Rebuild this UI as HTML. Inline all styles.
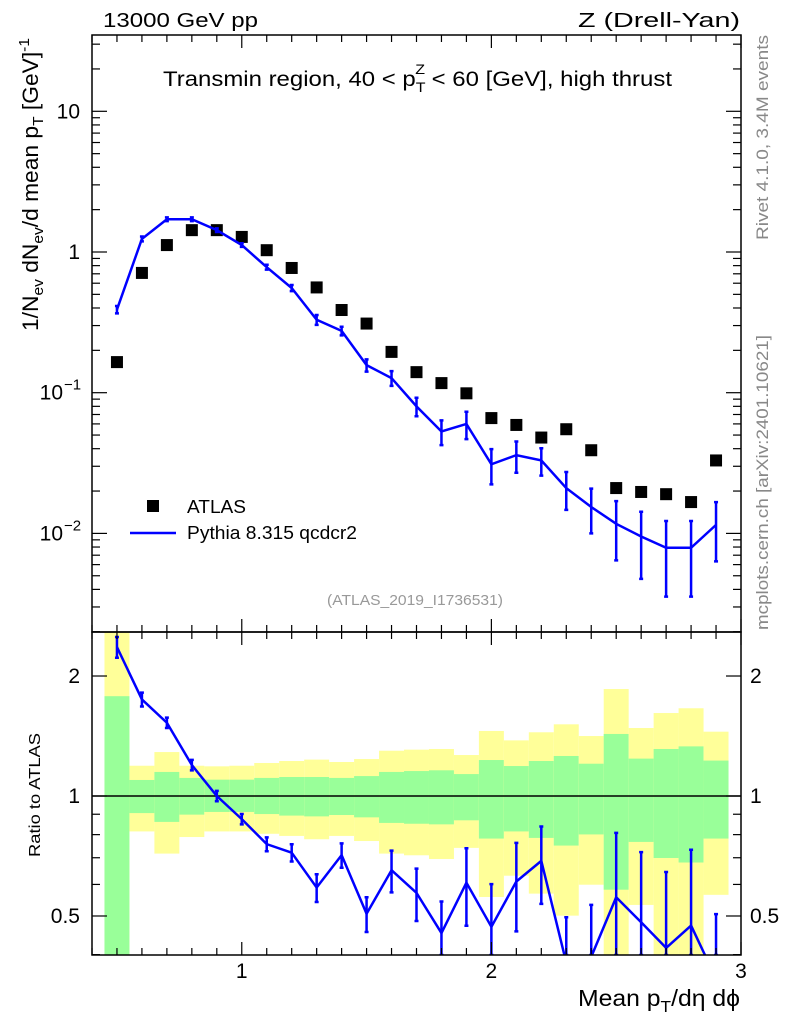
<!DOCTYPE html>
<html><head><meta charset="utf-8"><style>
html,body{margin:0;padding:0;background:#fff;overflow:hidden;width:786px;height:1024px;}
svg{display:block;font-family:"Liberation Sans",sans-serif;}
</style></head><body>
<svg id="c" width="786" height="1024" viewBox="0 0 786 1024" xmlns="http://www.w3.org/2000/svg">
<g id="bands"></g>
<g id="marks"></g>
<g id="axes"></g>
<text x="103" y="27" font-size="20" textLength="155" lengthAdjust="spacingAndGlyphs">13000 GeV pp</text>
<text x="578" y="27" font-size="20" textLength="162" lengthAdjust="spacingAndGlyphs">Z (Drell-Yan)</text>
<text x="163" y="86" font-size="21" textLength="509" lengthAdjust="spacingAndGlyphs">Transmin region, 40 &lt; p<tspan font-size="14" dy="6">T</tspan><tspan font-size="14" dx="-9" dy="-18">Z</tspan><tspan dy="12"> &lt; 60 [GeV], high thrust</tspan></text>
<text transform="translate(38,331) rotate(-90)" font-size="22" textLength="293" lengthAdjust="spacingAndGlyphs">1/N<tspan font-size="15" dy="5">ev</tspan><tspan dy="-5"> dN</tspan><tspan font-size="15" dy="5">ev</tspan><tspan dy="-5">/d mean p</tspan><tspan font-size="15" dy="5">T</tspan><tspan dy="-5"> [GeV]</tspan><tspan font-size="15" dy="-9">-1</tspan></text>
<text transform="translate(768,240) rotate(-90)" font-size="17" fill="#888" textLength="205" lengthAdjust="spacingAndGlyphs">Rivet 4.1.0,  3.4M events</text>
<text transform="translate(768,630) rotate(-90)" font-size="17" fill="#888" textLength="295" lengthAdjust="spacingAndGlyphs">mcplots.cern.ch [arXiv:2401.10621]</text>
<text x="327" y="605" font-size="15" fill="#999" textLength="176" lengthAdjust="spacingAndGlyphs">(ATLAS_2019_I1736531)</text>
<rect x="147" y="500" width="12" height="12" fill="#000"/>
<text x="187" y="513" font-size="18" textLength="59" lengthAdjust="spacingAndGlyphs">ATLAS</text>
<line x1="130" y1="533" x2="176" y2="533" stroke="#0000ff" stroke-width="2.5"/>
<text x="187" y="539" font-size="18" textLength="170" lengthAdjust="spacingAndGlyphs">Pythia 8.315 qcdcr2</text>
<text transform="translate(40,857) rotate(-90)" font-size="16" textLength="124" lengthAdjust="spacingAndGlyphs">Ratio to ATLAS</text>
<text x="578" y="1006" font-size="23" textLength="162" lengthAdjust="spacingAndGlyphs">Mean p<tspan font-size="16" dy="6">T</tspan><tspan dy="-6">/dη dϕ</tspan></text>
</svg>
<script>
const xs=[0.5,0.6,0.7,0.8,0.9,1.0,1.1,1.2,1.3,1.4,1.5,1.6,1.7,1.8,1.9,2.0,2.1,2.2,2.3,2.4,2.5,2.6,2.7,2.8,2.9];
const atlas=[0.165,0.71,1.12,1.43,1.43,1.28,1.03,0.77,0.56,0.387,0.31,0.195,0.14,0.117,0.099,0.066,0.059,0.048,0.055,0.039,0.021,0.0197,0.019,0.0167,0.033];
const pythia=[0.39,1.24,1.71,1.71,1.43,1.12,0.78,0.555,0.33,0.275,0.157,0.127,0.080,0.053,0.060,0.031,0.036,0.033,0.021,0.0154,0.0117,0.0095,0.0079,0.0079,0.0115];
const pyErr=[0.06,0.04,0.03,0.03,0.03,0.03,0.04,0.05,0.08,0.07,0.10,0.12,0.15,0.20,0.22,0.28,0.25,0.22,0.3,0.35,0.45,0.5,0.55,0.55,0.45];
const yelUp=[3.0,1.191,1.289,1.191,1.187,1.191,1.210,1.224,1.234,1.217,1.238,1.299,1.307,1.312,1.267,1.456,1.379,1.445,1.513,1.414,1.855,1.481,1.615,1.66,1.45];
const grnUp=[1.78,1.097,1.149,1.110,1.099,1.099,1.110,1.116,1.116,1.110,1.122,1.149,1.155,1.160,1.135,1.231,1.189,1.224,1.260,1.205,1.431,1.241,1.312,1.332,1.227];
const grnLo=[0.3,0.906,0.861,0.898,0.912,0.912,0.901,0.893,0.889,0.896,0.884,0.856,0.852,0.849,0.869,0.782,0.815,0.785,0.751,0.801,0.582,0.767,0.699,0.681,0.782];
const yelLo=[0.3,0.815,0.717,0.789,0.815,0.815,0.804,0.794,0.779,0.794,0.771,0.717,0.710,0.695,0.741,0.558,0.631,0.569,0.501,0.599,0.3,0.533,0.3,0.3,0.565];
const xTicks=["1","2","3"];
const binW=0.1;
const NS="http://www.w3.org/2000/svg";
const L=92,R=741,T=35,M=632,B=955;
const X=v=>L+(v-0.4)*(R-L)/2.6;
const Y=v=>252-Math.log10(v)*140.7;
const RY=v=>796-Math.log10(v)*398.6;
function mk(p,tag,a){const e=document.createElementNS(NS,tag);for(const k in a)e.setAttribute(k,a[k]);p.appendChild(e);return e;}
const bands=document.getElementById('bands'),marks=document.getElementById('marks'),axes=document.getElementById('axes');
const clipR=v=>Math.min(Math.max(RY(v),M),B);
const clipM=v=>Math.min(Math.max(Y(v),T),M);
xs.forEach((x,i)=>{
 const x0=Math.max(X(x-binW/2),L),x1=Math.min(X(x+binW/2),R);
 let r=mk(bands,'rect',{x:x0,y:clipR(yelUp[i]),width:x1-x0,height:clipR(yelLo[i])-clipR(yelUp[i]),fill:'#ffff99'});
 
 
 r=mk(bands,'rect',{x:x0,y:clipR(grnUp[i]),width:x1-x0,height:clipR(grnLo[i])-clipR(grnUp[i]),fill:'#99ff99'});
 
 
});
let ln=mk(bands,'line',{x1:L,x2:R,y1:RY(1),y2:RY(1),stroke:'#000','stroke-width':1.5});


const defs=mk(document.getElementById('c'),'defs',{});
const cp=mk(defs,'clipPath',{id:'rc'});mk(cp,'rect',{x:L,y:M,width:R-L,height:B-M});
const cm=mk(defs,'clipPath',{id:'mc'});mk(cm,'rect',{x:L,y:T,width:R-L,height:M-T});
const gm=mk(marks,'g',{'clip-path':'url(#mc)'});
xs.forEach((x,i)=>{
 const s=mk(gm,'rect',{x:X(x)-6,y:Y(atlas[i])-6,width:12,height:12,fill:'#000'});
 
 
});
let pl=mk(gm,'polyline',{points:xs.map((x,i)=>X(x)+','+Y(pythia[i])).join(' '),fill:'none',stroke:'#0000ff','stroke-width':2.5});


function ebar(g,x,yt,yb,name){
 const e=mk(g,'path',{d:`M${x},${yt}V${yb}M${x-2},${yt}h4M${x-2},${yb}h4`,stroke:'#0000ff','stroke-width':2.5,fill:'none'});
 
 
}
xs.forEach((x,i)=>{const v=pythia[i],e=pyErr[i];ebar(gm,X(x),clipM(v*(1+e)),clipM(Math.max(v*(1-e),1e-4)),'pythia-error-bar');});
const gr=mk(marks,'g',{'clip-path':'url(#rc)'});
const rat=xs.map((x,i)=>pythia[i]/atlas[i]);
const ratPts=xs.map((x,i)=>{let y=RY(rat[i]);return [X(x),y];});
// clip polyline segments to panel bounds to avoid overflow
let segs=[];
for(let i=0;i<ratPts.length-1;i++){
 let [x1,y1]=ratPts[i],[x2,y2]=ratPts[i+1];
 const clampSeg=(xa,ya,xb,yb)=>{ if(yb>B){const t=(B-ya)/(yb-ya);return [xa+(xb-xa)*t,B];} return [xb,yb];};
 if(y1>B&&y2>B)continue;
 let a=[x1,y1],b=[x2,y2];
 if(y1>B)a=clampSeg(x2,y2,x1,y1);
 if(y2>B)b=clampSeg(x1,y1,x2,y2);
 segs.push(`M${a[0]},${a[1]}L${b[0]},${b[1]}`);
}
pl=mk(gr,'path',{d:segs.join(''),fill:'none',stroke:'#0000ff','stroke-width':2.5,'stroke-linejoin':'round'});


xs.forEach((x,i)=>{const v=rat[i],e=pyErr[i];const yt=clipR(v*(1+e)),yb=clipR(v*(1-e));if(yb-yt<1)return;ebar(gr,X(x),yt,yb,'ratio-error-bar');});
[[T,M],[M,B]].forEach(([a,b])=>{const f=mk(axes,'rect',{x:L,y:a,width:R-L,height:b-a,fill:'none',stroke:'#000','stroke-width':1.5});
 
 });
function tk(x1,y1,x2,y2){mk(axes,'line',{x1,y1,x2,y2,stroke:'#000','stroke-width':1.2});}
for(let k=4;k<=30;k++){const v=k/10,px=X(v),big=k%10==0,l=big?13:7;
 [T,M,B].forEach(yy=>{ if(yy!==T) tk(px,yy,px,yy-l); if(yy!==B) tk(px,yy,px,yy+l);});}
xTicks.forEach(t=>{const tx=mk(axes,'text',{x:X(+t),y:978,'font-size':21,'text-anchor':'middle'});tx.textContent=t;
 
 });
for(let d=-3;d<=1;d++)for(let m=1;m<10;m++){const v=m*Math.pow(10,d),py=Y(v);if(py<T||py>M)continue;const l=m==1?15:8;tk(L,py,L+l,py);tk(R,py,R-l,py);}
const yl=[[10,'10',''],[1,'1',''],[0.1,'10','−1'],[0.01,'10','−2']];
yl.forEach(([v,b,e])=>{const t=mk(axes,'text',{x:e?63:80,y:Y(v)+7,'font-size':21,'text-anchor':'end'});t.textContent=b;
 
 
 if(e){const s=mk(axes,'text',{x:64,y:Y(v)-3,'font-size':15});s.textContent=e;}});
for(let d=-1;d<=0;d++)for(let m=1;m<10;m++){const v=m*Math.pow(10,d),py=RY(v);if(py<M||py>B)continue;const l=(v==1||v==2||v==0.5)?15:8;tk(L,py,L+l,py);tk(R,py,R-l,py);}
[[2,'2'],[1,'1'],[0.5,'0.5']].forEach(([v,s])=>{[[80,'end'],[750,'start']].forEach(([x,a])=>{const t=mk(axes,'text',{x,y:RY(v)+7,'font-size':21,'text-anchor':a});t.textContent=s;
 
 });});
</script>
</body></html>
